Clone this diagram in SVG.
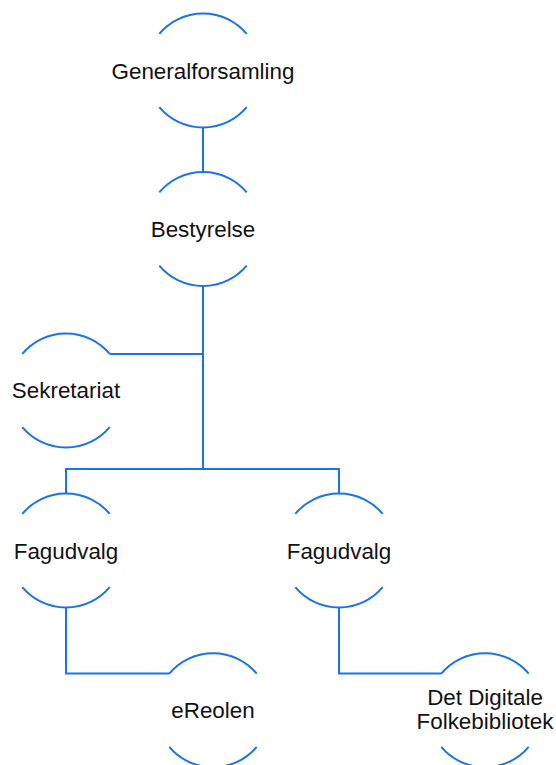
<svg xmlns="http://www.w3.org/2000/svg" xmlns:xlink="http://www.w3.org/1999/xlink" width="556" height="765" viewBox="0 0 556 765">
<style>
.arc{fill:none;stroke:#1a73e8;stroke-width:2}
.con{fill:none;stroke:#1a73e8;stroke-width:2}
.lbl{font-family:"Liberation Sans",Arial,sans-serif;font-size:22.4px;fill:#111;text-anchor:middle}
</style>
<defs>
<path id="ring" class="arc" d="M-43.7,-36.6 A57,57 0 0 1 43.7,-36.6 M-43.7,36.6 A57,57 0 0 0 43.7,36.6"/>
</defs>
<rect width="556" height="765" fill="#fff"/>
<g id="connectors" class="con">
<path d="M203,127.5 V172"/>
<path d="M203,286 V469"/>
<path d="M109.7,354 H203"/>
<path d="M66,494 V469 H339 V494"/>
<path d="M66,607 V673.6 H169.3"/>
<path d="M339,607 V673.6 H441.3"/>
</g>
<g id="generalforsamling" transform="translate(203,70.5)"><use xlink:href="#ring"/><text class="lbl" x="0" y="8">Generalforsamling</text></g>
<g id="bestyrelse" transform="translate(203,229)"><use xlink:href="#ring"/><text class="lbl" x="0" y="8">Bestyrelse</text></g>
<g id="sekretariat" transform="translate(66,390.5)"><use xlink:href="#ring"/><text class="lbl" x="0" y="7">Sekretariat</text></g>
<g id="fagudvalg1" transform="translate(66,550.5)"><use xlink:href="#ring"/><text class="lbl" x="0" y="8">Fagudvalg</text></g>
<g id="fagudvalg2" transform="translate(339,550.5)"><use xlink:href="#ring"/><text class="lbl" x="0" y="8">Fagudvalg</text></g>
<g id="ereolen" transform="translate(213,710.2)"><use xlink:href="#ring"/><text class="lbl" x="0" y="8">eReolen</text></g>
<g id="ddf" transform="translate(485,710.2)"><use xlink:href="#ring"/><text class="lbl" x="0" y="-5">Det Digitale</text><text class="lbl" x="0" y="19">Folkebibliotek</text></g>
</svg>
